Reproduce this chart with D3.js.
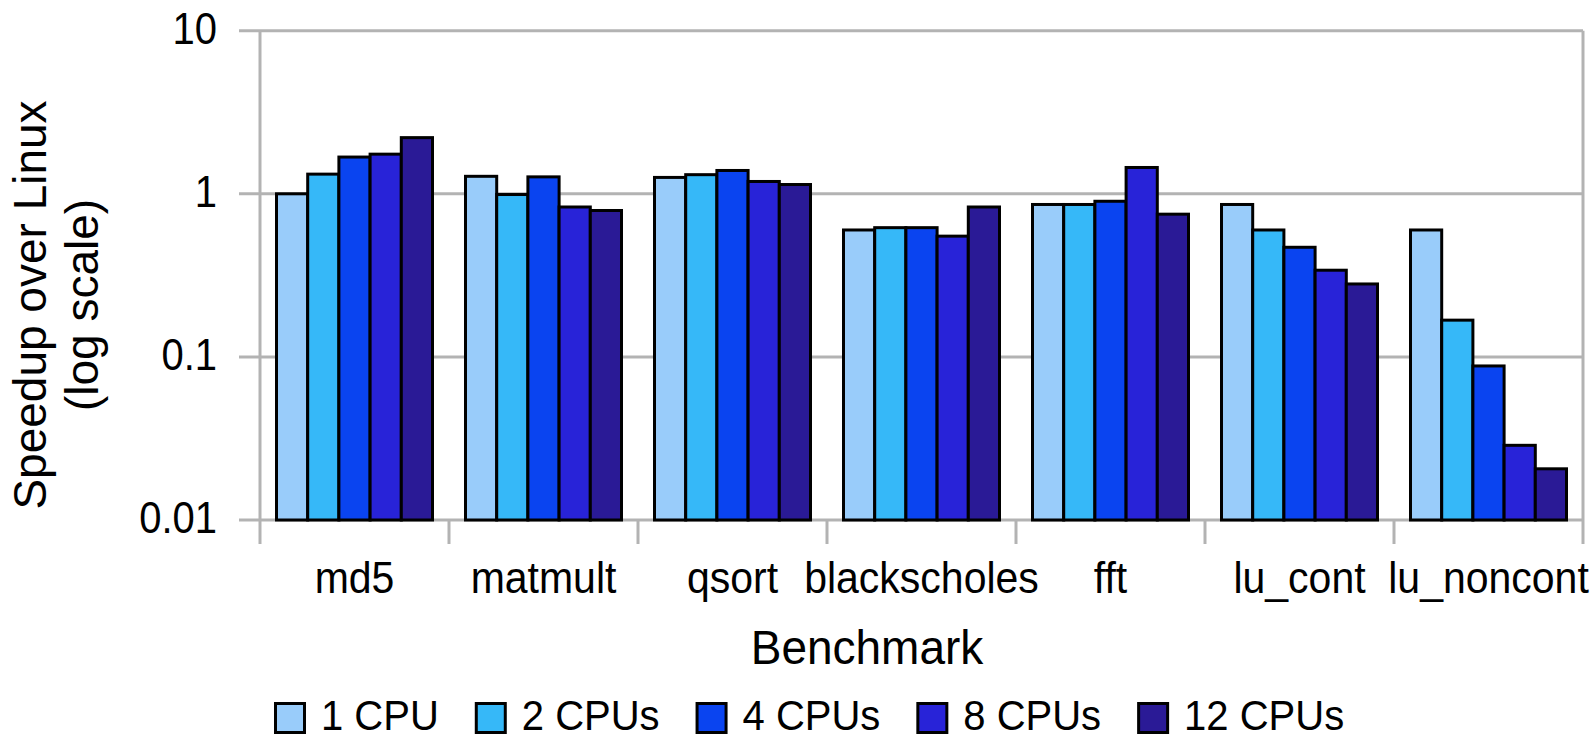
<!DOCTYPE html>
<html>
<head>
<meta charset="utf-8">
<script src="https://cdn.jsdelivr.net/npm/d3@7"></script>
<style>
  body { margin: 0; background: #fff; }
  svg { display: block; font-family: "Liberation Sans", Arial, sans-serif; }
</style>
</head>
<body>
<div id="chart"></div>
<script>
const width = 1596, height = 740;

// data
const benchmarks = ["md5", "matmult", "qsort", "blackscholes", "fft", "lu_cont", "lu_noncont"];
const series = ["1 CPU", "2 CPUs", "4 CPUs", "8 CPUs", "12 CPUs"];
const cpu1  = [1.00, 1.28, 1.26, 0.60, 0.86, 0.86, 0.60];
const cpu2  = [1.32, 0.99, 1.31, 0.62, 0.86, 0.60, 0.168];
const cpu4  = [1.68, 1.27, 1.39, 0.62, 0.90, 0.47, 0.088];
const cpu8  = [1.75, 0.83, 1.19, 0.55, 1.45, 0.34, 0.0287];
const cpu12 = [2.21, 0.79, 1.14, 0.83, 0.75, 0.28, 0.0206];
const yTicks = [0.01, 0.1, 1, 10];
const tickLabels = ["0.01", "0.1", "1", "10"];
const colors = ["#99ccfa", "#36b8f8", "#0a44f0", "#2823d8", "#2a1a96"];

const values = [cpu1, cpu2, cpu4, cpu8, cpu12];
const table = benchmarks.map((b, i) => ({
  name: b,
  vals: series.map((s, j) => ({ key: s, value: values[j][i], color: colors[j] }))
}));

const plotL = 260, plotR = 1583, plotT = 30.7, plotB = 520;

const svg = d3.select("#chart")
    .append("svg")
    .attr("width", width)
    .attr("height", height);

const x0 = d3.scaleBand().domain(benchmarks).range([plotL, plotR]).padding(0);
const x1 = d3.scaleBand().domain(series)
    .range([16.5, x0.bandwidth() - 16.5]).padding(0);
const y = d3.scaleLog().domain([0.01, 10]).range([plotB, plotT]);

const grey = "#b3b3b3";

// gridlines + left tick marks
svg.append("g")
  .selectAll("line")
  .data(yTicks)
  .enter()
  .append("line")
  .attr("x1", plotL - 21)
  .attr("x2", plotR)
  .attr("y1", d => y(d))
  .attr("y2", d => y(d))
  .attr("stroke", grey)
  .attr("stroke-width", 3);

// vertical axis + category ticks (including both ends)
const edges = benchmarks.map(b => x0(b)).concat([plotR]);
svg.append("g")
  .selectAll("line")
  .data(edges)
  .enter()
  .append("line")
  .attr("x1", d => d)
  .attr("x2", d => d)
  .attr("y1", (d, i) => (i === 0 || i === edges.length - 1) ? plotT : plotB)
  .attr("y2", plotB + 24)
  .attr("stroke", grey)
  .attr("stroke-width", 3);

// helper for the slightly tall text in the original
function label(g, txt, x, yy, size, sy, anchor) {
  return g.append("text")
    .attr("transform", `translate(${x},${yy}) scale(1,${sy})`)
    .attr("text-anchor", anchor)
    .attr("font-size", size)
    .attr("fill", "#000")
    .text(txt);
}

// y tick labels
yTicks.forEach((t, i) => {
  label(svg, tickLabels[i], 217, y(t) + 13, 40, 1.1, "end");
});

// bars
const groups = svg.selectAll(".grp")
  .data(table)
  .enter()
  .append("g")
  .attr("class", "grp")
  .attr("transform", d => `translate(${x0(d.name)},0)`);

groups.selectAll("rect")
  .data(d => d.vals)
  .enter()
  .append("rect")
  .attr("x", d => x1(d.key))
  .attr("y", d => y(d.value))
  .attr("width", x1.bandwidth())
  .attr("height", d => plotB - y(d.value))
  .attr("fill", d => d.color)
  .attr("stroke", "#000")
  .attr("stroke-width", 3);

// category labels
benchmarks.forEach(b => {
  label(svg, b, x0(b) + x0.bandwidth() / 2, 593, 41, 1.08, "middle");
});

// axis titles
label(svg, "Benchmark", 867, 664, 46, 1.04, "middle");

const yt = svg.append("g").attr("transform", "translate(0,305) rotate(-90)");
yt.append("text").attr("x", 0).attr("y", 46).attr("text-anchor", "middle")
  .attr("font-size", 46).text("Speedup over Linux");
yt.append("text").attr("x", 0).attr("y", 98).attr("text-anchor", "middle")
  .attr("font-size", 46).text("(log scale)");

// legend
const leg = svg.append("g");
let lx = 274;
series.forEach((s, i) => {
  leg.append("rect")
    .attr("x", lx + 1.5)
    .attr("y", 703.5)
    .attr("width", 29)
    .attr("height", 29)
    .attr("fill", colors[i])
    .attr("stroke", "#000")
    .attr("stroke-width", 3);
  const t = label(leg, s, lx + 47, 730, 40, 1.05, "start");
  lx += 47 + t.node().getComputedTextLength() + 36;
});
</script>
</body>
</html>
